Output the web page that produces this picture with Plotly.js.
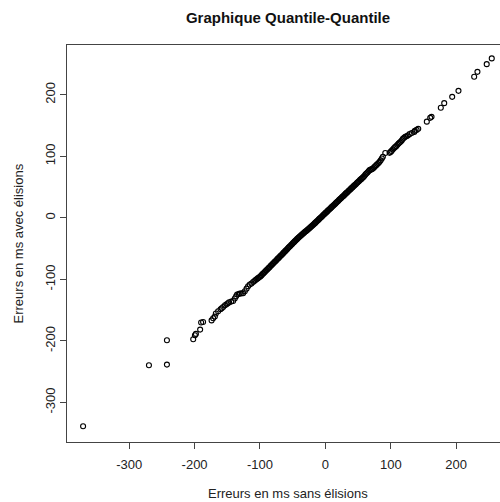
<!DOCTYPE html>
<html>
<head>
<meta charset="utf-8">
<script src="https://cdn.plot.ly/plotly-3.0.1.min.js"></script>
<style>html,body{margin:0;padding:0;background:#fff;}#chart{width:500px;height:502px;}</style>
</head>
<body>
<div id="chart"></div>
<script>
// Sample quantiles (x: sans élisions, y: avec élisions)
var lowerTailX = [-370.5, -269.8, -242.3, -242.3, -202.1, -199.5, -198.0, -191.5, -190.0, -187.0, -174.0, -171.6, -169.0, -167.5, -164.0, -160.3, -158.5, -156.3, -153.5, -151.1, -149.0, -147.2, -144.0, -141.1, -138.5, -136.5, -135.0, -132.5, -130.8, -128.0, -125.8, -123.2, -120.5, -118.2, -115.6, -113.0, -110.5, -108.5, -106.8, -105.3, -103.5, -101.8];
var lowerTailY = [-338.7, -239.5, -238.4, -198.9, -197.2, -190.7, -188.5, -181.5, -170.0, -169.2, -166.6, -163.2, -160.4, -155.4, -151.7, -148.5, -146.8, -144.7, -142.0, -140.3, -138.6, -137.1, -136.0, -135.0, -131.1, -127.5, -124.6, -123.6, -122.9, -122.6, -122.4, -119.2, -115.0, -111.1, -108.3, -106.5, -104.1, -102.6, -101.0, -99.7, -98.3, -97.0];

var bodyX = [-100.0, -98.8, -97.5, -96.1, -95.0, -93.6, -92.4, -91.0, -89.9, -88.5, -87.2, -86.0, -84.7, -83.3, -82.1, -80.8, -79.6, -78.2, -77.0, -75.7, -74.3, -73.1, -71.8, -70.5, -69.2, -68.0, -66.6, -65.3, -64.1, -62.8, -61.4, -60.2, -58.9, -57.6, -56.3, -55.0, -53.8, -52.4, -51.1, -49.9, -48.6, -47.3, -46.0, -44.8, -43.4, -42.1, -40.9, -39.6, -38.3, -37.0, -35.8, -34.4, -33.1, -31.9, -30.6, -29.3, -28.0, -26.8, -25.4, -24.1, -22.9, -21.6, -20.3, -19.0, -17.8, -16.4, -15.1, -13.9, -12.6, -11.3, -10.0, -8.8, -7.4, -6.1, -4.9, -3.6, -2.3, -1.0, 0.2, 1.5, 2.8, 4.0, 5.3, 6.6, 7.9, 9.1, 10.5, 11.8, 13.0, 14.3, 15.6, 16.9, 18.1, 19.5, 20.8, 22.0, 23.3, 24.6, 25.9, 27.1, 28.5, 29.8, 31.0, 32.3, 33.6, 34.9, 36.1, 37.5, 38.8, 40.0, 41.3, 42.6, 43.9, 45.1, 46.5, 47.8, 49.0, 50.3, 51.6, 52.9, 54.1, 55.5, 56.8];
var bodyY = [-95.6, -94.3, -93.0, -91.2, -90.4, -88.8, -87.6, -85.9, -84.7, -83.4, -81.9, -80.6, -79.3, -77.5, -76.5, -75.0, -73.8, -72.0, -70.9, -69.6, -68.0, -66.5, -65.4, -64.0, -62.5, -61.1, -59.8, -58.2, -56.9, -55.6, -54.0, -52.6, -51.3, -49.8, -48.3, -47.0, -45.6, -44.2, -42.7, -41.3, -40.1, -38.6, -37.1, -35.9, -34.5, -33.1, -31.8, -30.6, -29.5, -28.2, -27.0, -25.8, -24.7, -23.4, -22.3, -21.2, -20.0, -18.8, -17.6, -16.5, -15.3, -14.0, -12.9, -11.5, -10.2, -8.9, -7.7, -6.3, -5.0, -3.8, -2.4, -1.0, 0.3, 1.5, 2.8, 4.2, 5.4, 6.8, 8.1, 9.3, 10.6, 11.9, 13.3, 14.5, 15.7, 17.1, 18.6, 19.8, 21.0, 22.2, 23.6, 25.1, 26.2, 27.5, 28.9, 30.2, 31.4, 32.8, 34.2, 35.3, 36.6, 38.0, 39.4, 40.6, 41.8, 43.2, 44.5, 45.7, 47.1, 48.4, 49.6, 51.0, 52.4, 53.5, 54.8, 56.2, 57.6, 58.8, 60.0, 61.4, 62.6, 63.8, 65.1];

var upperTailX = [58.3, 59.8, 61.2, 62.6, 64.4, 66.0, 67.6, 69.3, 71.0, 72.7, 74.4, 76.1, 77.9, 79.6, 81.3, 82.9, 84.6, 86.3, 87.9, 91.6, 98.2, 99.8, 101.2, 103.0, 104.7, 106.5, 108.4, 110.2, 111.9, 113.6, 115.4, 117.0, 118.5, 120.3, 122.1, 124.0, 126.1, 128.7, 132.0, 135.9, 136.8, 139.5, 142.0, 155.1, 160.3, 162.3, 176.5, 181.7, 193.9, 203.5, 227.5, 232.5, 246.7, 254.4];
var upperTailY = [66.6, 68.4, 70.6, 72.2, 73.9, 75.7, 77.6, 78.4, 79.2, 80.3, 82.1, 84.0, 85.7, 87.4, 89.2, 91.1, 93.8, 96.5, 99.2, 105.5, 105.7, 107.3, 108.9, 111.2, 113.3, 115.0, 116.6, 118.9, 121.0, 122.6, 124.2, 126.3, 128.5, 130.2, 131.7, 132.8, 134.0, 136.1, 138.0, 139.8, 141.5, 143.0, 144.7, 156.4, 162.6, 164.2, 178.9, 186.5, 196.7, 206.5, 229.3, 237.4, 249.9, 259.2];

var xTicks = [-300, -200, -100, 0, 100, 200];
var yTicks = [-300, -200, -100, 0, 100, 200];

var chartTitle = 'Graphique Quantile-Quantile';
var xLabel = 'Erreurs en ms sans élisions';
var yLabel = 'Erreurs en ms avec élisions';

var xs = lowerTailX.concat(bodyX, upperTailX);
var ys = lowerTailY.concat(bodyY, upperTailY);

var FONT = 'Liberation Sans, Arial, Helvetica, sans-serif';
var AX = '#444';

var trace = {
  x: xs, y: ys, type: 'scatter', mode: 'markers',
  marker: {symbol: 'circle-open', size: 5, color: '#000', line: {color: '#000', width: 1.1}},
  hoverinfo: 'skip', showlegend: false
};

var layout = {
  width: 500, height: 502,
  margin: {l: 67, r: 0, t: 45, b: 60, pad: 0},
  paper_bgcolor: '#fff', plot_bgcolor: '#fff',
  font: {family: FONT, size: 13, color: '#000'},
  title: {
    text: '<b>' + chartTitle + '</b>',
    font: {family: FONT, size: 15, color: '#111'},
    xref: 'paper', x: 0.5104, xanchor: 'center',
    yref: 'container', y: 1 - 18 / 502, yanchor: 'middle'
  },
  xaxis: {
    range: [-395.1, 267], tickmode: 'array', tickvals: xTicks,
    ticktext: xTicks.map(String),
    ticks: 'outside', ticklen: 6, tickcolor: AX, tickwidth: 1,
    ticklabelstandoff: 4,
    showline: true, linecolor: AX, linewidth: 1, mirror: true,
    showgrid: false, zeroline: false,
    tickfont: {family: FONT, size: 13, color: '#222'}
  },
  yaxis: {
    range: [-364.2, 281], tickmode: 'array', tickvals: yTicks,
    ticktext: yTicks.map(String), tickangle: -90,
    ticks: 'outside', ticklen: 6, tickcolor: AX, tickwidth: 1,
    showline: true, linecolor: AX, linewidth: 1, mirror: false,
    showgrid: false, zeroline: false,
    tickfont: {family: FONT, size: 13, color: '#222'}
  },
  annotations: [
    {text: xLabel, xref: 'paper', yref: 'paper', x: 0.5104, y: -0.1285,
     xanchor: 'center', yanchor: 'middle', showarrow: false,
     font: {family: FONT, size: 13, color: '#222'}},
    {text: yLabel, xref: 'paper', yref: 'paper', x: -0.1109, y: 0.5,
     xanchor: 'center', yanchor: 'middle', textangle: -90, showarrow: false,
     font: {family: FONT, size: 13, color: '#222'}}
  ]
};

Plotly.newPlot('chart', [trace], layout, {staticPlot: true, displayModeBar: false});
</script>
</body>
</html>
